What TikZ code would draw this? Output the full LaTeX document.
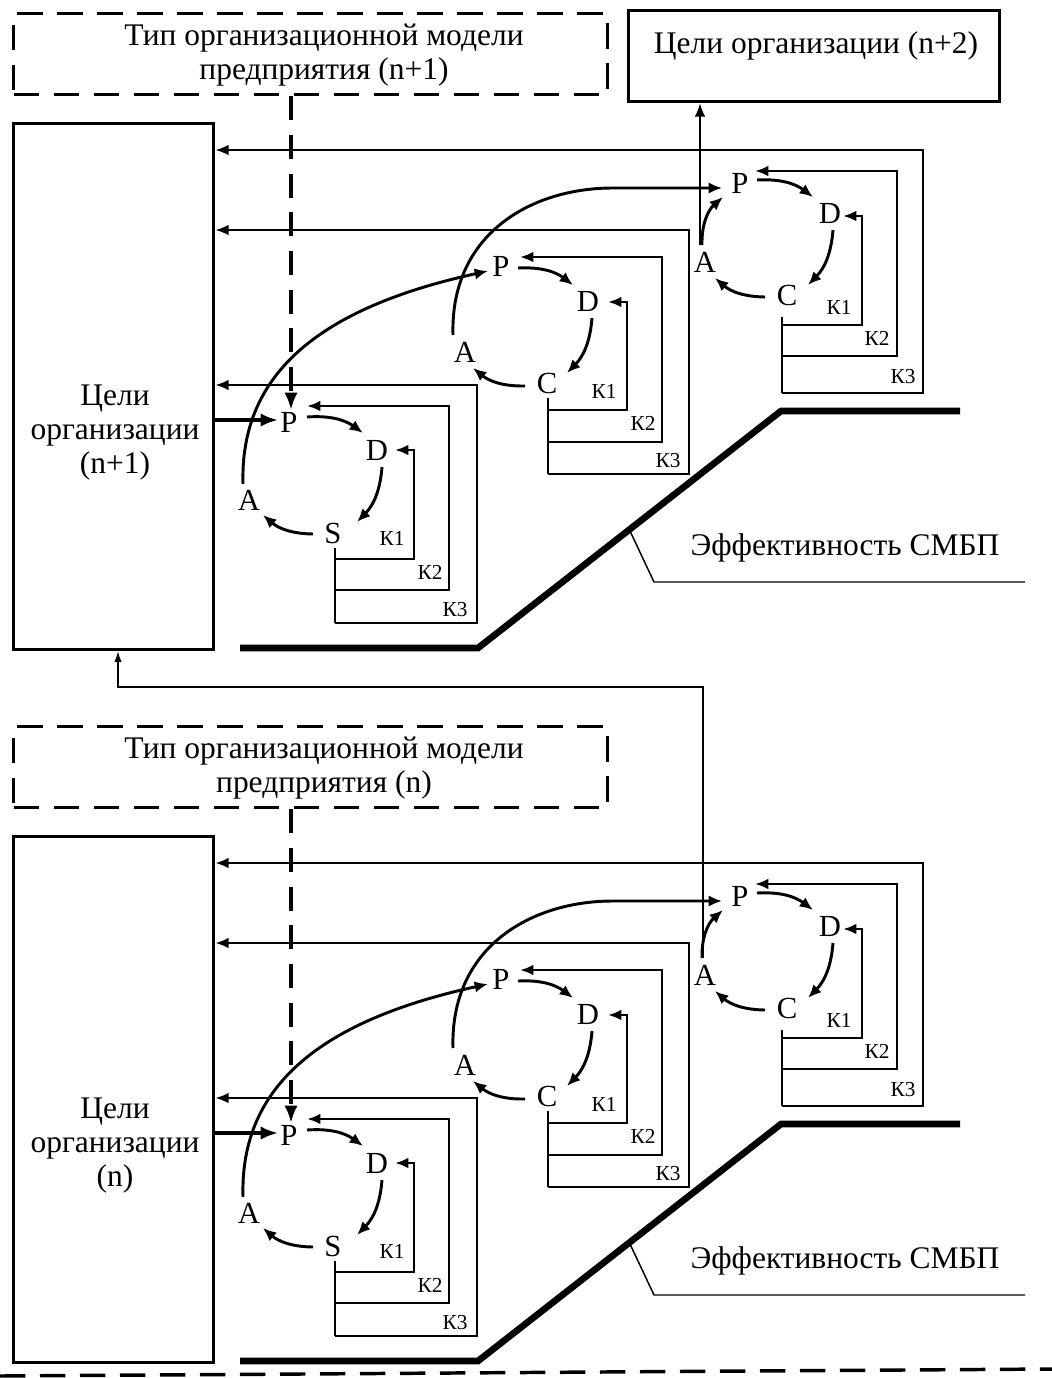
\documentclass[tikz,border=0pt]{standalone}
\usepackage{fontspec}
\setmainfont{Liberation Serif}
\usetikzlibrary{arrows.meta,calc}
\tikzset{
  lbl/.style={font=\fontsize{23.6}{25.5}\selectfont, align=center, inner sep=0pt},
  letr/.style={font=\fontsize{23}{24}\selectfont, inner sep=0pt},
  klbl/.style={font=\fontsize{16}{17}\selectfont, inner sep=0pt},
  sbox/.style={draw, line width=2.4pt, inner sep=0pt, anchor=north west},
  dbox/.style={draw, line width=2.6pt, dash pattern=on 19pt off 11pt, inner sep=0pt, anchor=north west},
  kln/.style={line width=2pt},
  arrowhd/.style={-{Latex[length=10pt,width=8pt]}},
  carr/.style={line width=2.2pt, -{Latex[length=10pt,width=8.5pt]}},
  karr/.style={line width=2pt, arrowhd},
  bigarr/.style={line width=2.4pt, -{Latex[length=13pt,width=10pt]}},
  vdash/.style={line width=2.6pt, dash pattern=on 18pt off 11pt},
  effl/.style={line width=5pt},
  thinln/.style={line width=1.1pt},
}
\newcommand\halfpic[3]{%
  % dashed box with the organisational model type
  \node[dbox, minimum width=445.5pt, minimum height=60.75pt] (#1type) at (12,12) {};
  \node[lbl] (#1typetxt) at (324,55) {#2};
  % goals box
  \node[sbox, minimum width=150pt, minimum height=394.5pt] (#1goal) at (12,122) {};
  \node[lbl] (#1goaltxt) at (115,433) {#3};
  % letters
  \node[letr] (#1P1) at (289,422) {P};
  \node[letr] (#1D1) at (377,450) {D};
  \node[letr] (#1S1) at (333,533) {S};
  \node[letr] (#1A1) at (249,500) {A};
  \node[letr] (#1P2) at (501,266) {P};
  \node[letr] (#1D2) at (588,301) {D};
  \node[letr] (#1C2) at (547,383) {C};
  \node[letr] (#1A2) at (465,352) {A};
  \node[letr] (#1P3) at (740,183) {P};
  \node[letr] (#1D3) at (830,213) {D};
  \node[letr] (#1C3) at (787,295) {C};
  \node[letr] (#1A3) at (705,262) {A};
  % K labels
  \node[klbl] (#1k11) at (392,538) {К1};
  \node[klbl] (#1k12) at (430,572) {К2};
  \node[klbl] (#1k13) at (455,610) {К3};
  \node[klbl] (#1k21) at (604,391) {К1};
  \node[klbl] (#1k22) at (643,423) {К2};
  \node[klbl] (#1k23) at (668,461) {К3};
  \node[klbl] (#1k31) at (839,307) {К1};
  \node[klbl] (#1k32) at (877,338) {К2};
  \node[klbl] (#1k33) at (903,377) {К3};
  % cycle 1 arrows
  \draw[carr] ($(#1P1)+(18,-5)$) to[bend left=20] ($(#1D1)+(-14,-17)$);
  \draw[carr] ($(#1D1)+(5,17)$) to[bend left=20] ($(#1S1)+(24,-11)$);
  \draw[carr] ($(#1S1)+(-20,1)$) to[bend left=20] ($(#1A1)+(14,15)$);
  % cycle 2 arrows
  \draw[carr] ($(#1P2)+(17,2)$) to[bend left=20] ($(#1D2)+(-15,-16)$);
  \draw[carr] ($(#1D2)+(4,17)$) to[bend left=20] ($(#1C2)+(20,-10)$);
  \draw[carr] ($(#1C2)+(-22,3)$) to[bend left=20] ($(#1A2)+(8,16)$);
  % cycle 3 arrows
  \draw[carr] ($(#1P3)+(17,-3)$) to[bend left=20] ($(#1D3)+(-17,-16)$);
  \draw[carr] ($(#1D3)+(3,17)$) to[bend left=20] ($(#1C3)+(21,-10)$);
  \draw[carr] ($(#1C3)+(-22,2)$) to[bend left=20] ($(#1A3)+(10,16)$);
  \draw[carr] ($(#1A3)+(-3,-17)$) to[bend left=25] ($(#1P3)+(-17,14)$);
  % K feedback lines, cycle 1
  \coordinate (#1s1) at ($(#1S1)+(2,15)$);
  \draw[kln] (#1s1) -- (335,623);
  \draw[karr] (335,559) -| (414,450) -- ($(#1D1)+(18,0)$);
  \draw[karr] (335,590) -| (449,406) -- ($(#1P1)+(18,-16)$);
  \draw[karr] (335,623) -| (477,385) -- (#1goal.east |- 0,385);
  % K feedback lines, cycle 2
  \coordinate (#1s2) at ($(#1C2)+(1,15)$);
  \draw[kln] (#1s2) -- (548,474);
  \draw[karr] (548,410) -| (627,302) -- ($(#1D2)+(20,1)$);
  \draw[karr] (548,442) -| (662,257) -- ($(#1P2)+(19,-9)$);
  \draw[karr] (548,474) -| (689,230) -- (#1goal.east |- 0,230);
  % K feedback lines, cycle 3
  \coordinate (#1s3) at ($(#1C3)+(-5,22)$);
  \draw[kln] (#1s3) -- (782,393);
  \draw[karr] (782,325) -| (862,216) -- ($(#1D3)+(13,3)$);
  \draw[karr] (782,356) -| (897,171) -- ($(#1P3)+(15,-12)$);
  \draw[karr] (782,393) -| (923,150) -- (#1goal.east |- 0,150);
  % transitions between cycles
  \draw[carr] ($(#1A1)+(-6,-16)$) .. controls (240,380) and (310,310) .. ($(#1P2)+(-13,5)$);
  \draw[carr] ($(#1A2)+(-12,-17)$) .. controls (450,235) and (530,188) .. (613,188) -- ($(#1P3)+(-18,5)$);
  % inputs to P of cycle 1
  \draw[vdash, -{Latex[length=13pt,width=10pt]}] (#1type.south -| 291,0) -- ($(#1P1)+(2,-12)$);
  \draw[bigarr] (#1goal.east |- 0,420) -- ($(#1P1)+(-11,-2)$);
  % effectiveness
  \draw[effl] (240,648) -- (478,648) -- (781,411) -- (960,411);
  \node[lbl] (#1eff) at (845,548) {Эффективность СМБП};
  \draw[thinln] (630,531) -- (654,582) -- (1025,582);
}
\begin{document}
\begin{tikzpicture}[x=0.75pt,y=-0.75pt]
  \useasboundingbox[fill=white] (0,0) rectangle (1052,1378);
  \begin{scope}
    \halfpic{t}{Тип организационной модели\\предприятия (n+1)}{Цели\\организации\\(n+1)}
  \end{scope}
  \begin{scope}[shift={(0,713)}]
    \halfpic{b}{Тип организационной модели\\предприятия (n)}{Цели\\организации\\(n)}
  \end{scope}
  % goals n+2
  \node[sbox, minimum width=278.25pt, minimum height=68.25pt] (goal2) at (627,9) {};
  \node[lbl] (goal2txt) at (816,46) {Цели организации (n+2)};
  \draw[line width=1.6pt, arrowhd] ($(tA3)+(-5,-17)$) -- (goal2.south -| 700,0);
  % link from bottom block to top goals
  \draw[thinln, -{Latex[length=8pt,width=5.5pt]}] ($(bA3)+(-2,-17)$) -- (703,687) -- (118,687) -- (tgoal.south -| 118,0);
  % cut line at the bottom
  \coordinate (cutL) at (0,1376);
  \coordinate (cutR) at (1052,1369);
  \draw[line width=2.6pt, dash pattern=on 19pt off 11pt] (cutL) -- (cutR);
\end{tikzpicture}
\end{document}
